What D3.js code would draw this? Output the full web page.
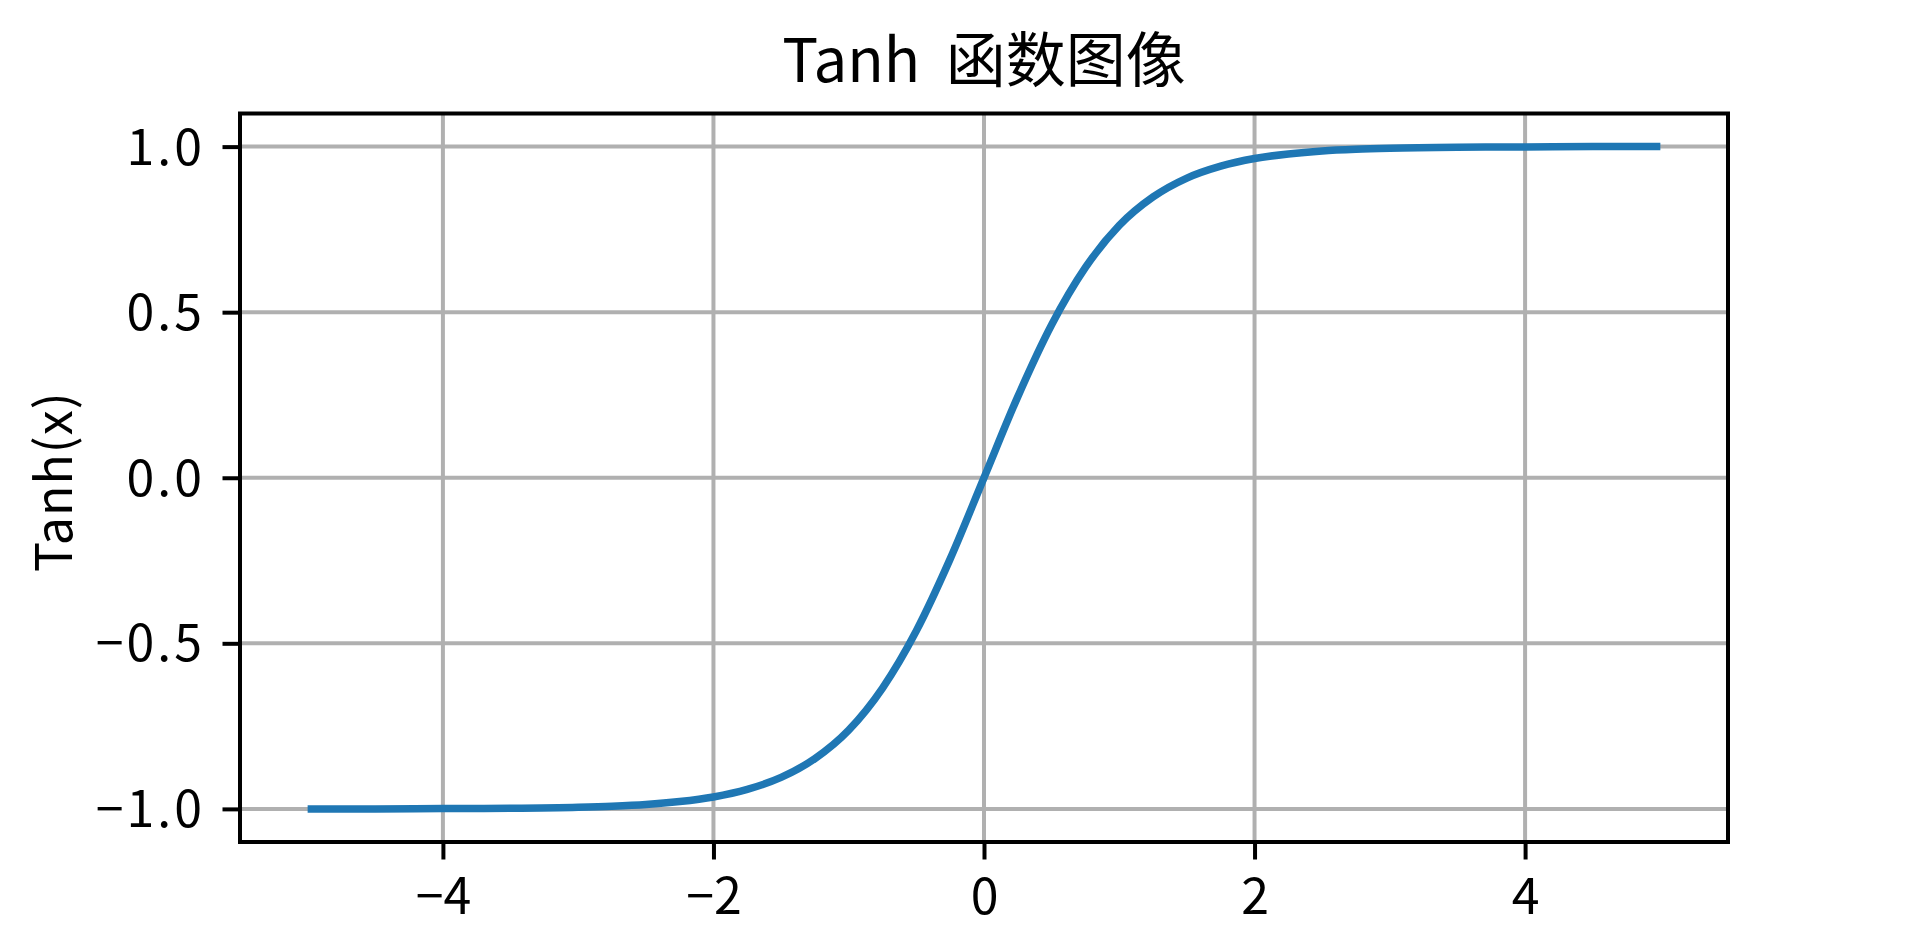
<!DOCTYPE html>
<html>
<head>
<meta charset="utf-8">
<script src="https://cdn.jsdelivr.net/npm/d3@7"></script>
<style>
  body { margin: 0; background: #fff; }
  svg text {
    font-family: "Noto Sans CJK SC", "DejaVu Sans", sans-serif;
    fill: #000;
  }
</style>
</head>
<body>
<div id="chart"></div>
<script>
// values
const xValues = [-5, -4.5, -4, -3.5, -3, -2.75, -2.5, -2.25, -2, -1.75, -1.5, -1.25, -1, -0.75, -0.5, -0.25,
  0, 0.25, 0.5, 0.75, 1, 1.25, 1.5, 1.75, 2, 2.25, 2.5, 2.75, 3, 3.5, 4, 4.5, 5];
const yValues = [-1.000, -1.000, -0.999, -0.998, -0.995, -0.992, -0.987, -0.978, -0.964, -0.941, -0.905, -0.848, -0.762, -0.635, -0.462, -0.245,
  0, 0.245, 0.462, 0.635, 0.762, 0.848, 0.905, 0.941, 0.964, 0.978, 0.987, 0.992, 0.995, 0.998, 0.999, 1.000, 1.000];
const xTicks = [-4, -2, 0, 2, 4];
const yTicks = [-1.0, -0.5, 0.0, 0.5, 1.0];
const titleText = "Tanh 函数图像";
const yLabel = "Tanh(x)";

const W = 1920, H = 946;
const margin = { top: 113.5, right: 192, bottom: 104, left: 240 };
const width = W - margin.left - margin.right;
const height = H - margin.top - margin.bottom;

const data = xValues.map((x, i) => ({ x: x, y: yValues[i] }));

const svg = d3.select("#chart").append("svg")
  .attr("width", W)
  .attr("height", H);

const g = svg.append("g").attr("transform", `translate(${margin.left},${margin.top})`);

const x = d3.scaleLinear().domain([-5.5, 5.5]).range([0, width]);
const y = d3.scaleLinear().domain([-1.1, 1.1]).range([height, 0]);

// grid
g.selectAll(".gx").data(xTicks).enter().append("line")
  .attr("x1", d => x(d)).attr("x2", d => x(d))
  .attr("y1", 0).attr("y2", height)
  .attr("stroke", "#b0b0b0").attr("stroke-width", 4);
g.selectAll(".gy").data(yTicks).enter().append("line")
  .attr("x1", 0).attr("x2", width)
  .attr("y1", d => y(d)).attr("y2", d => y(d))
  .attr("stroke", "#b0b0b0").attr("stroke-width", 4);

// curve
const line = d3.line().x(d => x(d.x)).y(d => y(d.y)).curve(d3.curveMonotoneX);
g.append("path").datum(data)
  .attr("d", line)
  .attr("fill", "none")
  .attr("stroke", "#1f77b4")
  .attr("stroke-width", 7.5);

// axes
const xAxis = g.append("g").attr("transform", `translate(0,${height})`)
  .call(d3.axisBottom(x).tickValues(xTicks).tickSize(17.5).tickPadding(17.5).tickFormat(d3.format("d")));
const yAxis = g.append("g")
  .call(d3.axisLeft(y).tickValues(yTicks).tickSize(17.5).tickPadding(17.5).tickFormat(d3.format(".1f")));

[xAxis, yAxis].forEach(a => {
  a.select(".domain").remove();
  a.selectAll(".tick line").attr("stroke", "#000").attr("stroke-width", 4);
  a.selectAll(".tick text").attr("font-size", 50).attr("font-family", null);
});
xAxis.selectAll(".tick text").attr("dy", null).attr("y", 72);
yAxis.selectAll(".tick text").attr("dy", "0.35em").style("letter-spacing", "3px");

// frame
g.append("rect")
  .attr("width", width).attr("height", height)
  .attr("fill", "none").attr("stroke", "#000").attr("stroke-width", 4);

// title
svg.append("text")
  .attr("x", margin.left + width / 2)
  .attr("y", 82)
  .attr("text-anchor", "middle")
  .attr("font-size", 60)
  .style("word-spacing", "12px")
  .text(titleText);

// y label
svg.append("text")
  .attr("transform", `translate(72,${margin.top + height / 2 + 4}) rotate(-90)`)
  .attr("text-anchor", "middle")
  .attr("font-size", 50)
  .style("letter-spacing", "1px")
  .text(yLabel);
</script>
</body>
</html>
